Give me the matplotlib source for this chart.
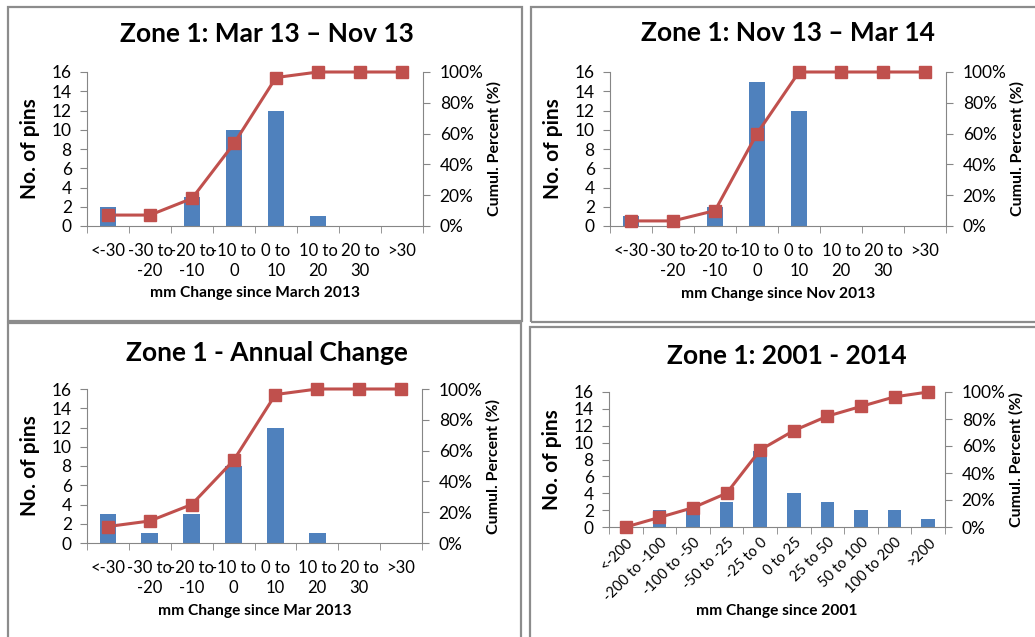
import numpy as np
import matplotlib
matplotlib.use('Agg')
import matplotlib.pyplot as plt
from matplotlib.patches import Rectangle
from matplotlib.ticker import FixedLocator, PercentFormatter

plt.rcParams['font.family'] = ['Lato', 'DejaVu Sans']

# --- data ---
cats_small = ['<-30', '-30 to\n-20', '-20 to\n-10', '-10 to\n0', '0 to\n10',
              '10 to\n20', '20 to\n30', '>30']
cats_long = ['<-200', '-200 to -100', '-100 to -50', '-50 to -25', '-25 to 0',
             '0 to 25', '25 to 50', '50 to 100', '100 to 200', '>200']

pins_mar13_nov13 = [2, 0, 3, 10, 12, 1, 0, 0]
cum_mar13_nov13 = [7.1, 7.1, 17.9, 53.6, 96.4, 100, 100, 100]

pins_nov13_mar14 = [1, 0, 2, 15, 12, 0, 0, 0]
cum_nov13_mar14 = [3.3, 3.3, 10.0, 60.0, 100, 100, 100, 100]

pins_annual = [3, 1, 3, 8, 12, 1, 0, 0]
cum_annual = [10.7, 14.3, 25.0, 53.6, 96.4, 100, 100, 100]

pins_2001_2014 = [0, 2, 2, 3, 9, 4, 3, 2, 2, 1]
cum_2001_2014 = [0, 7.1, 14.3, 25.0, 57.1, 71.4, 82.1, 89.3, 96.4, 100]

W, H = 1035, 637
BAR = '#4F81BD'
LINE = '#C0504D'
AXC = '#868686'

fig = plt.figure(figsize=(W / 100, H / 100), dpi=100)


def box(l, t, r, b):
    return [l / W, 1 - b / H, (r - l) / W, (b - t) / H]


def panel(border, area, title, tcen, cats, pins, cum, xlabel, xlab_y, rotate=False):
    l, t, r, b = border
    fig.patches.append(Rectangle((l / W, 1 - b / H), (r - l) / W, (b - t) / H,
                                 transform=fig.transFigure, fill=False,
                                 edgecolor='#8c8c8c', lw=1.6))
    ax = fig.add_axes(box(*area))
    n = len(cats)
    x = np.arange(n)
    ax.bar(x, pins, width=0.4, color=BAR, zorder=2)
    ax.set_xlim(-0.5, n - 0.5)
    ax.set_ylim(0, 16)
    ax.set_yticks(range(0, 17, 2))
    ax.set_xticks(x)
    if rotate:
        ax.set_xticklabels(cats, rotation=45, ha='right', rotation_mode='anchor',
                           fontsize=10.5)
        ax.tick_params(axis='x', which='major', length=0, pad=6)
    else:
        ax.set_xticklabels(cats, fontsize=12, linespacing=1.3)
        ax.tick_params(axis='x', which='major', length=0, pad=12)
    ax.xaxis.set_minor_locator(FixedLocator(np.arange(n + 1) - 0.5))
    ax.tick_params(axis='x', which='minor', length=5, color=AXC, direction='out')
    ax.tick_params(axis='y', labelsize=12.5, length=5, color=AXC, pad=6)
    for s in ['top', 'right']:
        ax.spines[s].set_visible(False)
    for s in ['left', 'bottom']:
        ax.spines[s].set_color(AXC)

    ax2 = ax.twinx()
    ax2.plot(x, cum, color=LINE, lw=2.2, marker='s', ms=9, clip_on=False, zorder=3)
    ax2.set_ylim(0, 100)
    ax2.set_yticks(range(0, 101, 20))
    ax2.yaxis.set_major_formatter(PercentFormatter(decimals=0))
    ax2.tick_params(axis='y', labelsize=12.5, length=5, color=AXC, pad=7)
    for s in ['top', 'left', 'bottom']:
        ax2.spines[s].set_visible(False)
    ax2.spines['right'].set_color(AXC)

    al, at, ar, ab = area
    fig.text(tcen[0] / W, 1 - tcen[1] / H, title, ha='center', va='center',
             fontsize=19, fontweight='bold')
    cy = 1 - (at + ab) / 2 / H
    fig.text((al - 57) / W, cy, 'No. of pins', rotation=90, ha='center',
             va='center', fontsize=15, fontweight='bold')
    fig.text((ar + 71) / W, cy, 'Cumul. Percent (%)', rotation=90, ha='center',
             va='center', fontsize=11.5, fontweight='bold')
    fig.text((al + ar) / 2 / W, 1 - xlab_y / H, xlabel, ha='center', va='center',
             fontsize=11.2, fontweight='bold')


panel((8, 7, 522, 321), (87, 72, 423, 226), 'Zone 1: Mar 13 \u2013 Nov 13', (267, 34),
      cats_small, pins_mar13_nov13, cum_mar13_nov13, 'mm Change since March 2013', 293)
panel((531, 7, 1040, 322), (610, 72, 946, 226), 'Zone 1: Nov 13 \u2013 Mar 14', (788, 33),
      cats_small, pins_nov13_mar14, cum_nov13_mar14, 'mm Change since Nov 2013', 294)
panel((8, 323, 521, 645), (87, 389, 422, 543), 'Zone 1 - Annual Change', (267, 353),
      cats_small, pins_annual, cum_annual, 'mm Change since Mar 2013', 611)
panel((530, 327, 1040, 645), (609, 392, 945, 527), 'Zone 1: 2001 - 2014', (787, 356),
      cats_long, pins_2001_2014, cum_2001_2014, 'mm Change since 2001', 611, rotate=True)

fig.savefig('out.png', dpi=100)
